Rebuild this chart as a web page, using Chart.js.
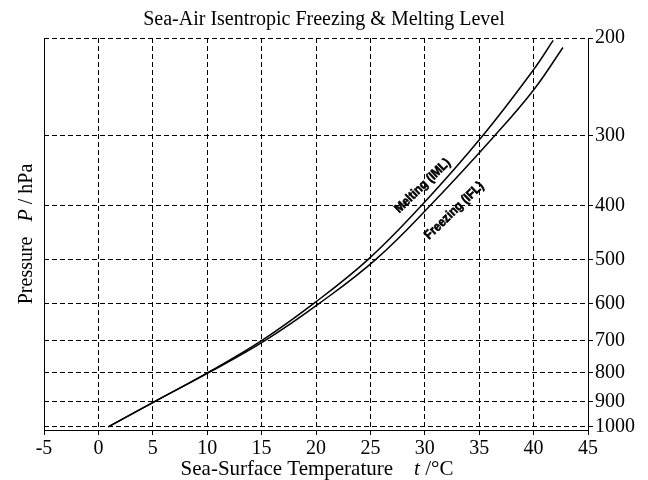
<!DOCTYPE html>
<html>
<head>
<meta charset="utf-8">
<script src="https://cdn.jsdelivr.net/npm/chart.js@4"></script>
<style>
  body { margin: 0; background: #fff; }
  #wrap { width: 648px; height: 480px; }
</style>
</head>
<body>
<div id="wrap"><canvas id="chart"></canvas></div>
<script>
// values
const meltingP = [1000, 900, 800, 700, 600, 500, 400, 300, 228, 202];
const meltingT = [0.9, 5.2, 10.0, 15.0, 19.8, 24.8, 29.7, 35.3, 40.0, 41.8];
const freezingP = [1000, 900, 800, 700, 600, 500, 400, 300, 248, 208];
const freezingT = [0.9, 5.2, 10.1, 15.3, 20.3, 25.5, 30.5, 36.4, 40.0, 42.7];
const pressureTicks = [200, 300, 400, 500, 600, 700, 800, 900, 1000];
const curveLabels = ["Melting (IML)", "Freezing (IFL)"];

const serif = "'Liberation Serif', 'Times New Roman', serif";

const toPoints = (ts, ps) => ts.map((t, i) => ({ x: t, y: ps[i] }));

// draws the axis titles (with italic symbols) and the curve labels
const annotate = {
  id: "annotate",
  afterDraw(chart) {
    const ctx = chart.ctx;
    const area = chart.chartArea;
    const x = chart.scales.x;
    const y = chart.scales.y;

    const drawParts = (parts, cx, cy, rot, size) => {
      ctx.save();
      ctx.translate(cx, cy);
      ctx.rotate(rot);
      ctx.fillStyle = "#000";
      ctx.textBaseline = "alphabetic";
      let total = 0;
      parts.forEach((p) => {
        ctx.font = (p[1] ? "italic " : "") + size + "px " + serif;
        total += ctx.measureText(p[0]).width;
      });
      let pos = -total / 2;
      parts.forEach((p) => {
        ctx.font = (p[1] ? "italic " : "") + size + "px " + serif;
        ctx.fillText(p[0], pos, 0);
        pos += ctx.measureText(p[0]).width;
      });
      ctx.restore();
    };

    drawParts([["Sea-Surface Temperature    ", false], ["t", true], [" /°C", false]],
      (area.left + area.right) / 2 + 1, 475, 0, 21);
    drawParts([["Pressure   ", false], ["P", true], [" / hPa", false]],
      32, (area.top + area.bottom) / 2, -Math.PI / 2, 20);

    // curve labels
    const spots = [[29.8, 369], [32.7, 409]];
    ctx.save();
    ctx.font = "bold 13px 'Liberation Sans', Arial, sans-serif";
    ctx.fillStyle = "#000";
    ctx.strokeStyle = "#000";
    ctx.lineWidth = 0.6;
    ctx.textAlign = "center";
    ctx.textBaseline = "middle";
    curveLabels.forEach((txt, i) => {
      ctx.save();
      ctx.translate(x.getPixelForValue(spots[i][0]), y.getPixelForValue(spots[i][1]));
      ctx.rotate(-44 * Math.PI / 180);
      ctx.scale(0.9, 1);
      ctx.fillText(txt, 0, 0);
      ctx.strokeText(txt, 0, 0);
      ctx.restore();
    });
    ctx.restore();
  },
};

const gridStyle = {
  color: "#000",
  lineWidth: 1,
  tickLength: 5,
  tickColor: "#000",
};

const lineStyle = {
  xAxisID: "x",
  yAxisID: "y",
  showLine: true,
  tension: 0.4,
  borderColor: "#000",
  borderWidth: 1.5,
  pointRadius: 0,
};

new Chart(document.getElementById("chart"), {
  type: "scatter",
  data: {
    datasets: [
      { label: curveLabels[0], data: toPoints(meltingT, meltingP), ...lineStyle },
      { label: curveLabels[1], data: toPoints(freezingT, freezingP), ...lineStyle },
    ],
  },
  options: {
    responsive: true,
    maintainAspectRatio: false,
    animation: false,
    layout: { padding: 0 },
    plugins: {
      legend: { display: false },
      tooltip: { enabled: false },
      title: {
        display: true,
        text: "Sea-Air Isentropic Freezing & Melting Level",
        color: "#000",
        font: { family: serif, size: 20, weight: "normal" },
        padding: { top: 8, bottom: 6 },
      },
    },
    scales: {
      x: {
        type: "linear",
        min: -5,
        max: 45,
        ticks: {
          stepSize: 5,
          color: "#000",
          padding: 2,
          maxRotation: 0,
          font: { family: serif, size: 20 },
        },
        grid: gridStyle,
        border: { display: true, color: "#000", width: 1, dash: [5, 3] },
        afterFit: (scale) => { scale.height = 50; },
      },
      yl: {
        type: "linear",
        position: "left",
        min: 0,
        max: 1,
        ticks: { display: false },
        grid: { display: false, drawTicks: false },
        border: { display: true, color: "#000", width: 1 },
        afterFit: (scale) => { scale.width = 44; },
      },
      y: {
        type: "logarithmic",
        position: "right",
        reverse: true,
        min: 200,
        max: 1013.25,
        afterBuildTicks: (scale) => {
          scale.ticks = pressureTicks.map((v) => ({ value: v }));
        },
        ticks: {
          color: "#000",
          padding: 2,
          font: { family: serif, size: 20 },
          callback: (v) => String(v),
        },
        grid: gridStyle,
        border: { display: true, color: "#000", width: 1, dash: [5, 3] },
        afterFit: (scale) => { scale.width = 60; },
      },
    },
  },
  plugins: [annotate],
});
</script>
</body>
</html>
